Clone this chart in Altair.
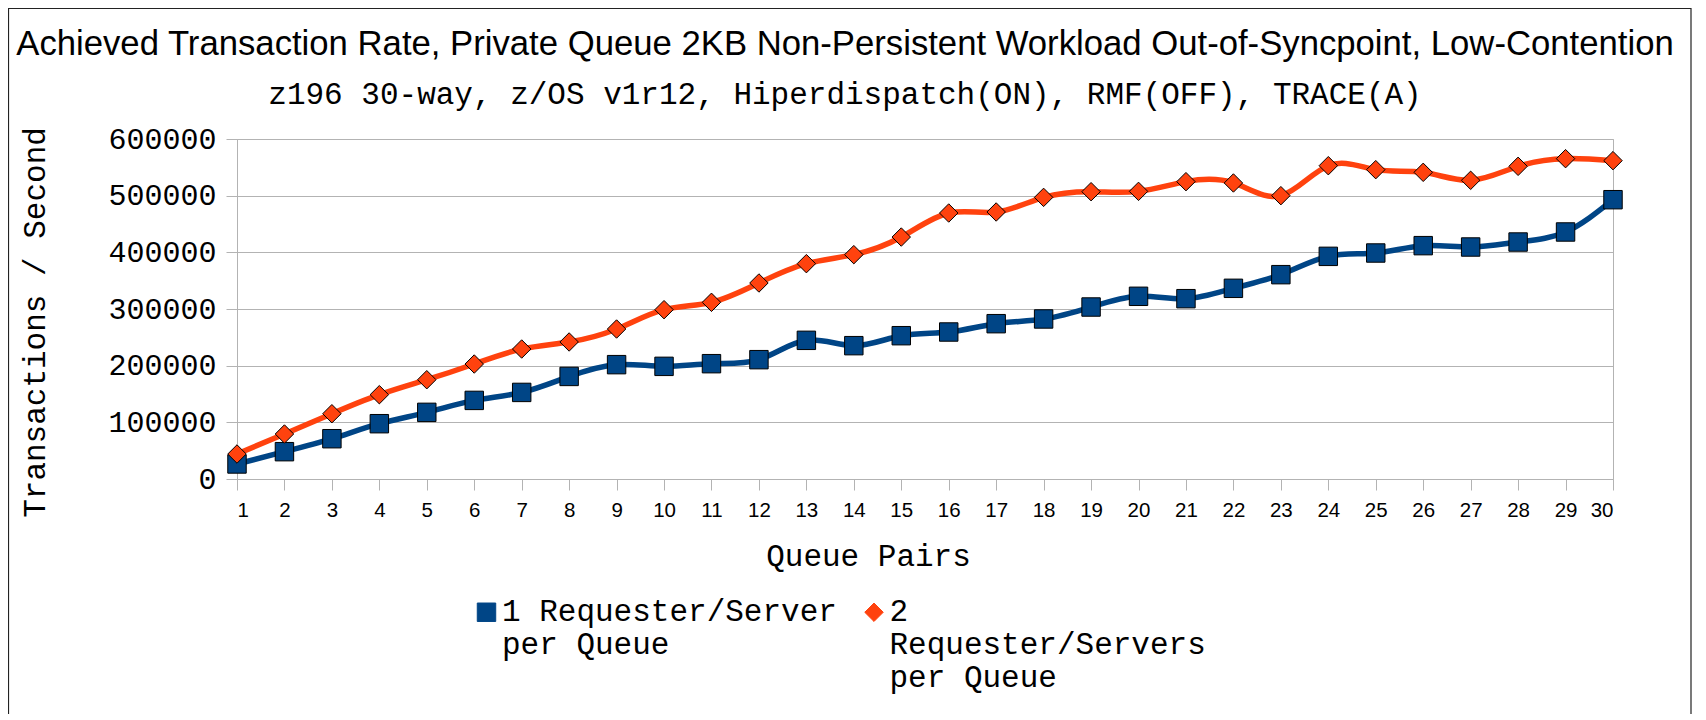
import altair as alt
import pandas as pd

queue_pairs = list(range(1, 31))
one_rs = [26500, 48200, 71100, 97600, 117600, 138700, 152800, 181000, 201800, 198800,
          203500, 210600, 244700, 235300, 252900, 259400, 274100, 282400, 303500, 322400,
          318200, 336500, 360600, 392900, 398800, 411800, 409400, 418200, 435900, 492900]
two_rs = [44100, 79400, 115200, 148800, 175200, 202900, 229400, 241800, 264700, 298800,
          311800, 345900, 380000, 395900, 427000, 469400, 471200, 497000, 507000, 507600,
          524700, 522400, 500000, 552900, 545900, 541200, 527100, 551800, 565300, 561800]
NBSP = "\u00a0"
series_names = ["1 Requester/Server|per Queue|" + NBSP, "2|Requester/Servers|per Queue"]
y_ticks = [0, 100000, 200000, 300000, 400000, 500000, 600000]

colors = ["#004586", "#ff420e"]
shapes = ["square", "diamond"]

rows = []
for s, vals in zip(series_names, [one_rs, two_rs]):
    for q, v in zip(queue_pairs, vals):
        rows.append({"pairs": q, "rate": v, "series": s})
df = pd.DataFrame(rows)

x = alt.X("pairs:Q",
          scale=alt.Scale(domain=[1, 30], nice=False, zero=False),
          axis=alt.Axis(values=queue_pairs, format="d", title="Queue Pairs", grid=False,
                        tickSize=11, labelPadding=10, labelFont="Liberation Sans",
                        labelFontSize=20.5, labelAngle=0,
                        titleX=631, titleY=77, titleAlign="center", titleBaseline="middle"))
y = alt.Y("rate:Q",
          scale=alt.Scale(domain=[0, 600000], nice=False),
          axis=alt.Axis(values=y_ticks, format="d", title="Transactions / Second",
                        tickSize=11, labelPadding=10, labelFont="Liberation Mono",
                        labelFontSize=30,
                        titleX=-202, titleY=183, titleAlign="center", titleBaseline="middle"))

legend = alt.Legend(title=None, orient="none", legendX=234, legendY=457.5,
                    direction="horizontal", columns=2, columnPadding=21.5,
                    labelFont="Liberation Mono", labelFontSize=31, labelColor="black",
                    labelLimit=0, labelExpr="split(datum.label, '|')",
                    labelBaseline="middle", labelOffset=0, symbolSize=340,
                    symbolStrokeColor="black", symbolStrokeWidth=1, symbolOpacity=1,
                    padding=0, rowPadding=0)

color_enc = alt.Color("series:N", scale=alt.Scale(domain=series_names, range=colors), legend=legend)
shape_enc = alt.Shape("series:N", scale=alt.Scale(domain=series_names, range=shapes), legend=legend)

frame = alt.Chart(alt.Data(values=[{}])).mark_rect(
    fillOpacity=0, stroke="#222222", strokeWidth=1.2
).encode(x=alt.value(-228.5), x2=alt.value(1454), y=alt.value(-130.5), y2=alt.value(700))

lines = alt.Chart(df).mark_line(interpolate="natural", strokeWidth=5.5).encode(
    x=x, y=y, color=color_enc)

points = alt.Chart(df).mark_point(filled=True, size=340, stroke="black",
                                  strokeWidth=1, opacity=1).encode(
    x=x, y=y, color=color_enc, shape=shape_enc)

chart = alt.layer(frame, lines, points).properties(
    width=1376, height=340,
    autosize=alt.AutoSizeParams(type="none"),
    padding={"left": 229, "top": 131, "right": 85, "bottom": 235},
    title=alt.TitleParams(
        text="Achieved Transaction Rate, Private Queue 2KB Non-Persistent Workload Out-of-Syncpoint, Low-Contention",
        subtitle="z196 30-way, z/OS v1r12, Hiperdispatch(ON), RMF(OFF), TRACE(A)",
        font="Liberation Sans", fontSize=34.7, fontWeight="normal", color="black",
        subtitleFont="Liberation Mono", subtitleFontSize=31, subtitleColor="black",
        anchor="middle", dx=-80, dy=131, offset=28, subtitlePadding=17)
).configure_view(stroke="#b3b3b3").configure_axis(
    gridColor="#b3b3b3", domainColor="#b3b3b3", tickColor="#b3b3b3",
    labelColor="black", titleColor="black", titleFont="Liberation Mono",
    titleFontSize=31, titleFontWeight="normal"
)

chart.save("out.html", embed_options={"renderer": "svg", "actions": False})
